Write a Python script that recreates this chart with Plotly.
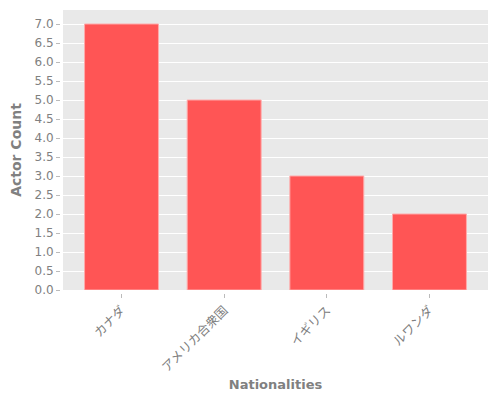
import plotly.graph_objects as go

# Data
nationalities = ["カナダ", "アメリカ合衆国", "イギリス", "ルワンダ"]
actor_counts = [7, 5, 3, 2]

fig = go.Figure(
    go.Bar(
        x=nationalities,
        y=actor_counts,
        marker=dict(color="#FF5555", line=dict(color="#FFAAAA", width=1)),
    )
)

fig.update_layout(
    width=500,
    height=400,
    margin=dict(l=52, r=20, t=2, b=115),
    plot_bgcolor="#E9E9E9",
    paper_bgcolor="white",
    font=dict(family="DejaVu Sans, Noto Sans CJK JP", color="#808080", size=12),
    showlegend=False,
    bargap=0.28,
)

# axes sit a few px off the plot area, like the original
fig.update_xaxes(
    title=dict(text="<b>Nationalities</b>", font=dict(size=13, color="#808080"),
               standoff=6),
    tickangle=-45,
    tickfont=dict(size=12.5),
    ticks="outside",
    ticklen=4,
    tickcolor="#BBBBBB",
    showgrid=False,
    range=[-0.57, 3.57],
    domain=[0.007, 1],
    anchor="free",
    position=0,
)

fig.update_yaxes(
    title=dict(text="<b>Actor Count</b>", font=dict(size=14, color="#808080"),
               standoff=14),
    dtick=0.5,
    tickformat=".1f",
    ticks="outside",
    ticklen=4,
    tickcolor="#BBBBBB",
    gridcolor="white",
    zeroline=False,
    domain=[0.0106, 1],
    anchor="free",
    position=0,
)

fig.write_html("out.html")
